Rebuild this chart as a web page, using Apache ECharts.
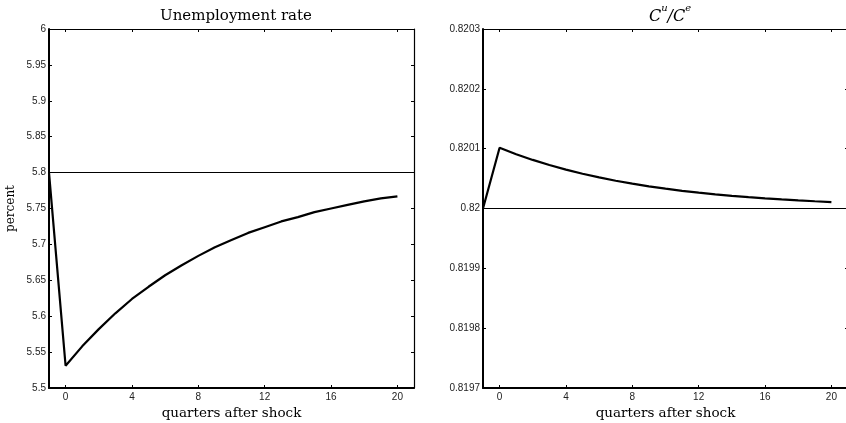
<!DOCTYPE html>
<html><head><meta charset="utf-8">
<script src="https://cdn.jsdelivr.net/npm/echarts@6/dist/echarts.min.js"></script>
<style>html,body{margin:0;padding:0;background:#fff}#c{width:846px;height:423px}</style>
</head><body><div id="c"></div>
<script>
const quarters = [-1,0,1,2,3,4,5,6,7,8,9,10,11,12,13,14,15,16,17,18,19,20];
const unemployment = [5.8,5.531,5.558,5.582,5.604,5.624,5.641,5.657,5.671,5.684,5.696,5.706,5.716,5.724,5.732,5.738,5.745,5.750,5.755,5.760,5.764,5.767];
const consRatio = [0.82,0.8201016,0.8200908,0.8200812,0.8200726,0.8200649,0.8200580,0.8200519,0.8200464,0.8200415,0.8200371,0.8200331,0.8200296,0.8200265,0.8200237,0.8200212,0.8200189,0.8200169,0.8200151,0.8200135,0.8200121,0.8200108];
const unempBase = 5.8;
const consBase = 0.82;
const xTicks = [0,4,8,12,16,20];
const yTicksL = [5.5,5.55,5.6,5.65,5.7,5.75,5.8,5.85,5.9,5.95,6];
const yTicksR = [0.8197,0.8198,0.8199,0.82,0.8201,0.8202,0.8203];
const titles = ['Unemployment rate','C^u/C^e'];
const xName = 'quarters after shock';
const yNameL = 'percent';

const serif = '"DejaVu Serif", "Liberation Serif", serif';
const sans = '"Liberation Sans", Arial, sans-serif';
const chart = echarts.init(document.getElementById('c'), null, {renderer:'canvas'});

function fmtY(v){ return String(parseFloat(v.toFixed(6))); }

function xAxes(gi){
  return [
    {gridIndex:gi, type:'value', min:-1, max:21, position:'bottom',
     name:xName, nameLocation:'middle', nameGap:14,
     nameTextStyle:{fontFamily:serif, fontSize:13.5, color:'#000'},
     axisLine:{show:true, onZero:false, lineStyle:{color:'#000', width:2}},
     axisTick:{show:true, inside:true, length:3, customValues:xTicks, lineStyle:{color:'#000'}},
     axisLabel:{show:true, customValues:xTicks, margin:4, fontFamily:sans, fontSize:10, color:'#222'},
     splitLine:{show:false}},
    {gridIndex:gi, type:'value', min:-1, max:21, position:'top',
     axisLine:{show:true, onZero:false, lineStyle:{color:'#000', width:1.2}},
     axisTick:{show:true, inside:true, length:3, customValues:xTicks, lineStyle:{color:'#000'}},
     axisLabel:{show:false}, splitLine:{show:false}}
  ];
}
function yAxes(gi, min, max, ticks, name){
  return [
    {gridIndex:gi, type:'value', min:min, max:max, position:'left',
     name:name, nameLocation:'middle', nameGap:32, nameRotate:90,
     nameTextStyle:{fontFamily:serif, fontSize:12, color:'#000'},
     axisLine:{show:true, onZero:false, lineStyle:{color:'#000', width:2}},
     axisTick:{show:true, inside:true, length:3, customValues:ticks, lineStyle:{color:'#000'}},
     axisLabel:{show:true, customValues:ticks, margin:3, fontFamily:sans, fontSize:10, color:'#222', formatter:fmtY},
     splitLine:{show:false}},
    {gridIndex:gi, type:'value', min:min, max:max, position:'right',
     axisLine:{show:true, onZero:false, lineStyle:{color:'#000', width:1.2}},
     axisTick:{show:true, inside:true, length:3, customValues:ticks, lineStyle:{color:'#000'}},
     axisLabel:{show:false}, splitLine:{show:false}}
  ];
}

const option = {
  backgroundColor:'#fff',
  animation:false,
  title:[
    {text:titles[0], left:231, top:4, textAlign:'center',
     textStyle:{fontFamily:serif, fontSize:15, fontWeight:'normal', color:'#000'}},
    {text:'{c|C}{s|u}{c|/C}{s|e}', left:665, top:-2, textAlign:'center',
     textStyle:{fontWeight:'normal', rich:{
       c:{fontFamily:serif, fontStyle:'italic', fontWeight:'normal', fontSize:16, lineHeight:22, verticalAlign:'bottom', color:'#000'},
       s:{fontFamily:serif, fontStyle:'italic', fontWeight:'normal', fontSize:10, lineHeight:10, verticalAlign:'top', color:'#000'}
     }}}
  ],
  grid:[
    {left:49, top:29, width:365, height:359, outerBoundsMode:'none', containLabel:false},
    {left:483, top:29, width:365, height:359, outerBoundsMode:'none', containLabel:false}
  ],
  xAxis:[].concat(xAxes(0), xAxes(1)),
  yAxis:[].concat(yAxes(0,5.5,6,yTicksL,yNameL), yAxes(1,0.8197,0.8203,yTicksR,'')),
  series:[
    {type:'line', xAxisIndex:0, yAxisIndex:0, data:quarters.map((q,i)=>[q,unemployment[i]]),
     showSymbol:false, symbol:'none', lineStyle:{color:'#000', width:2.2}, z:3,
     markLine:{silent:true, symbol:'none', label:{show:false}, lineStyle:{color:'#000', width:1, type:'solid'},
       data:[{yAxis:unempBase}]}},
    {type:'line', xAxisIndex:2, yAxisIndex:2, data:quarters.map((q,i)=>[q,consRatio[i]]),
     showSymbol:false, symbol:'none', lineStyle:{color:'#000', width:2.2}, z:3,
     markLine:{silent:true, symbol:'none', label:{show:false}, lineStyle:{color:'#000', width:1, type:'solid'},
       data:[{yAxis:consBase}]}}
  ]
};
chart.setOption(option);
</script></body></html>
